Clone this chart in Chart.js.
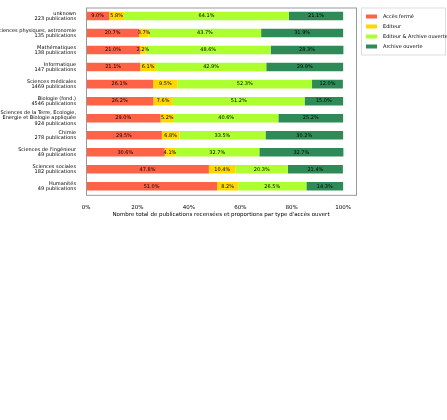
<!DOCTYPE html>
<html><head><meta charset="utf-8">
<script src="https://cdn.jsdelivr.net/npm/chart.js@4"></script>
<style>body{margin:0;background:#fff}#wrap{width:447px;height:218px;position:relative}</style>
</head><body>
<div id="wrap"><canvas id="c"></canvas></div>
<script>
const categories = [
    ['unknown', '223 publications'],
    ['Sciences physiques, astronomie', '135 publications'],
    ['Mathématiques', '138 publications'],
    ['Informatique', '147 publications'],
    ['Sciences médicales', '1469 publications'],
    ['Biologie (fond.)', '4546 publications'],
    ['Sciences de la Terre, Ecologie,', 'Energie et Biologie appliquée', '924 publications'],
    ['Chimie', '278 publications'],
    ["Sciences de l'ingénieur", '49 publications'],
    ['Sciences sociales', '182 publications'],
    ['Humanités', '49 publications']
];
const accesFerme = [9.0, 20.7, 21.0, 21.1, 26.1, 26.2, 29.0, 29.5, 30.6, 47.8, 51.0];
const editeur = [5.8, 3.7, 2.2, 6.1, 9.5, 7.6, 5.2, 6.8, 4.1, 10.4, 8.2];
const editeurArchive = [64.1, 43.7, 48.6, 42.9, 52.3, 51.2, 40.6, 33.5, 32.7, 20.3, 26.5];
const archiveOuverte = [21.1, 31.9, 28.3, 29.9, 12.0, 15.0, 25.2, 30.2, 32.7, 21.4, 14.3];
const xTicks = [0, 20, 40, 60, 80, 100];

// étiquettes de pourcentage, cadre du graphique et légende encadrée
const decor = {
    id: 'decor',
    afterDatasetsDraw(chart) {
        const ctx = chart.ctx;
        const a = chart.chartArea;
        ctx.save();
        ctx.font = '5px DejaVu Sans';
        ctx.fillStyle = '#000';
        ctx.textAlign = 'center';
        ctx.textBaseline = 'middle';
        chart.data.datasets.forEach((ds, i) => {
            chart.getDatasetMeta(i).data.forEach((bar, j) => {
                ctx.fillText(ds.data[j].toFixed(1) + '%', (bar.x + bar.base) / 2, bar.y);
            });
        });
        ctx.strokeStyle = '#999';
        ctx.lineWidth = 1;
        ctx.strokeRect(a.left + 0.5, a.top + 0.5, a.right - a.left, a.bottom - a.top);
        // légende
        const lx = a.right + 5, ly = a.top;
        ctx.strokeStyle = '#ddd';
        ctx.strokeRect(lx + 0.5, ly + 0.5, 84, 47);
        ctx.textAlign = 'left';
        chart.data.datasets.forEach((ds, i) => {
            const y = ly + 9 + i * 10;
            ctx.fillStyle = ds.backgroundColor;
            ctx.fillRect(lx + 5, y - 2, 11, 4);
            ctx.fillStyle = '#000';
            ctx.fillText(ds.label, lx + 22, y);
        });
        ctx.restore();
    }
};

new Chart(document.getElementById('c'), {
    type: 'bar',
    data: {
        labels: categories,
        datasets: [
            { label: 'Accès fermé', data: accesFerme, backgroundColor: '#ff6347' },
            { label: 'Editeur', data: editeur, backgroundColor: '#ffd700' },
            { label: 'Editeur & Archive ouverte', data: editeurArchive, backgroundColor: '#adff2f' },
            { label: 'Archive ouverte', data: archiveOuverte, backgroundColor: '#2e8b57' }
        ]
    },
    options: {
        indexAxis: 'y',
        responsive: true,
        maintainAspectRatio: false,
        animation: false,
        layout: { padding: { top: 3, right: 91 } },
        datasets: { bar: { categoryPercentage: 1, barPercentage: 0.5, borderWidth: 0 } },
        scales: {
            x: {
                stacked: true, min: 0, max: 105,
                grid: { display: false },
                border: { display: false },
                afterBuildTicks: axis => { axis.ticks = xTicks.map(v => ({ value: v })); },
                ticks: { callback: v => v + '%', font: { size: 5.5, family: 'DejaVu Sans' }, color: '#000', padding: 1 },
                title: { display: true, text: 'Nombre total de publications recensées et proportions par type d\'accès ouvert', font: { size: 5.5, family: 'DejaVu Sans' }, color: '#000', padding: 0 }
            },
            y: {
                stacked: true,
                grid: { display: false },
                border: { display: false },
                afterFit: axis => { axis.width = 86; },
                ticks: { font: { size: 5, family: 'DejaVu Sans', lineHeight: 1.1 }, color: '#000', autoSkip: false, padding: 2 }
            }
        },
        plugins: { legend: { display: false }, tooltip: { enabled: false } }
    },
    plugins: [decor]
});
</script>
</body></html>
